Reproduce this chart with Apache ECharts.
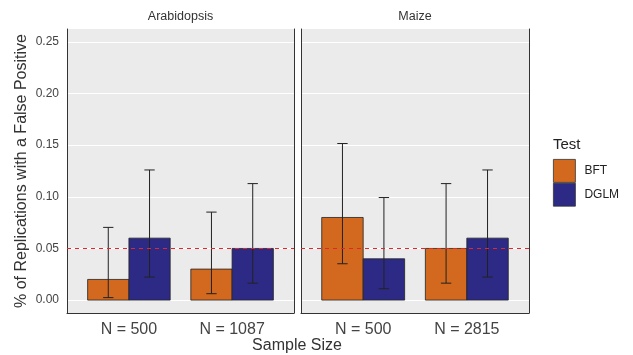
<!DOCTYPE html>
<html>
<head>
<meta charset="utf-8">
<script src="https://cdn.jsdelivr.net/npm/echarts@6/dist/echarts.min.js"></script>
<style>
  html, body { margin: 0; padding: 0; background: #fff; }
  #chart { width: 633px; height: 355px; }
</style>
</head>
<body>
<div id="chart"></div>
<script>
const facets = ['Arabidopsis', 'Maize']
const sizeLabels = [['N = 500', 'N = 1087'], ['N = 500', 'N = 2815']]
const tests = ['BFT', 'DGLM']
// proportion of 100 replications with a false positive, with binomial CIs
const bftRate = [[0.02, 0.03], [0.08, 0.05]]
const bftLow = [[0.0024, 0.0062], [0.0352, 0.0164]]
const bftHigh = [[0.0704, 0.0852], [0.1516, 0.1128]]
const dglmRate = [[0.06, 0.05], [0.04, 0.06]]
const dglmLow = [[0.0223, 0.0164], [0.011, 0.0223]]
const dglmHigh = [[0.126, 0.1128], [0.0993, 0.126]]
const yTicks = [0, 0.05, 0.1, 0.15, 0.2, 0.25]
const threshold = 0.05

const colors = { BFT: '#D2691E', DGLM: '#2d2a85' }
const font = 'Liberation Sans, Arial, sans-serif'
const chart = echarts.init(document.getElementById('chart'))

const grids = [
  { left: 67, top: 29, width: 227, height: 284 },
  { left: 301, top: 29, width: 228, height: 284 }
]

function renderBar(from, to) {
  return function (params, api) {
    const x = api.value(0)
    const top = api.coord([x + from, api.value(1)])
    const base = api.coord([x + to, 0])
    const c = x + (from + to) / 2
    const hi = api.coord([c, api.value(3)])
    const lo = api.coord([c, api.value(2)])
    const capL = api.coord([c - 0.05, 0])[0]
    const capR = api.coord([c + 0.05, 0])[0]
    const line = { stroke: '#222', lineWidth: 1 }
    return {
      type: 'group',
      children: [
        { type: 'rect', shape: { x: top[0], y: top[1], width: base[0] - top[0], height: base[1] - top[1] },
          style: { fill: api.visual('color'), stroke: '#222', lineWidth: 0.8 } },
        { type: 'line', shape: { x1: hi[0], y1: hi[1], x2: lo[0], y2: lo[1] }, style: line },
        { type: 'line', shape: { x1: capL, y1: hi[1], x2: capR, y2: hi[1] }, style: line },
        { type: 'line', shape: { x1: capL, y1: lo[1], x2: capR, y2: lo[1] }, style: line }
      ]
    }
  }
}

const xAxis = facets.map((f, i) => ({
  type: 'value', gridIndex: i, min: 0.4, max: 2.6,
  axisLine: { show: true, onZero: false, lineStyle: { color: '#333', width: 1 } },
  axisTick: { show: false }, splitLine: { show: false },
  axisLabel: {
    margin: 9, fontSize: 16, color: '#444', fontFamily: font, showMinLabel: false, showMaxLabel: false,
    formatter: (v) => {
      const k = Math.round(v)
      return Math.abs(v - k) < 1e-6 && k >= 1 && k <= 2 ? sizeLabels[i][k - 1] : ''
    }
  }
}))

const yAxis = []
facets.forEach((f, i) => {
  yAxis.push({
    type: 'value', gridIndex: i, min: -0.0125, max: 0.2625,
    axisLine: { show: true, lineStyle: { color: '#333', width: 1 } },
    axisTick: { show: false },
    splitLine: { show: true, showMinLine: false, showMaxLine: false, lineStyle: { color: '#fff', width: 1.2 } },
    axisLabel: {
      show: i === 0, fontSize: 12, color: '#444', fontFamily: font, margin: 8,
      formatter: (v) => yTicks.some((t) => Math.abs(t - v) < 1e-6) ? v.toFixed(2) : ''
    },
    name: i === 0 ? '% of Replications with a False Positive' : '',
    nameLocation: 'middle', nameGap: 37, nameRotate: 90,
    nameTextStyle: { fontSize: 16, color: '#333', fontFamily: font }
  })
  yAxis.push({
    type: 'value', gridIndex: i, position: 'right', min: -0.0125, max: 0.2625,
    axisLine: { show: true, lineStyle: { color: '#333', width: 1 } },
    axisTick: { show: false }, axisLabel: { show: false }, splitLine: { show: false }
  })
})

const series = []
facets.forEach((f, i) => {
  const rates = [bftRate[i], dglmRate[i]]
  const lows = [bftLow[i], dglmLow[i]]
  const highs = [bftHigh[i], dglmHigh[i]]
  tests.forEach((t, j) => {
    series.push({
      type: 'custom', name: t, xAxisIndex: i, yAxisIndex: i * 2,
      itemStyle: { color: colors[t] },
      encode: { x: 0, y: 1 },
      renderItem: j === 0 ? renderBar(-0.4, 0) : renderBar(0, 0.4),
      data: rates[j].map((v, k) => [k + 1, v, lows[j][k], highs[j][k]]),
      markLine: j === 1 ? {
        silent: true, symbol: ['none', 'none'], label: { show: false },
        lineStyle: { color: '#e3262b', type: [4, 4], width: 1 },
        data: [{ yAxis: threshold }]
      } : undefined
    })
  })
})

chart.setOption({
  animation: false,
  textStyle: { fontFamily: font },
  grid: grids.map((g) => ({ ...g, show: true, backgroundColor: '#EBEBEB', borderWidth: 0 })),
  title: [
    ...facets.map((f, i) => ({
      text: f, left: grids[i].left + grids[i].width / 2, top: 10, textAlign: 'center', padding: 0,
      textStyle: { fontSize: 12.5, fontWeight: 'normal', color: '#333', fontFamily: font }
    })),
    { text: 'Sample Size', left: 297, top: 338, textAlign: 'center', padding: 0,
      textStyle: { fontSize: 16, fontWeight: 'normal', color: '#333', fontFamily: font } },
    { text: 'Test', left: 553, top: 137, padding: 0,
      textStyle: { fontSize: 15, fontWeight: 'normal', color: '#222', fontFamily: font } }
  ],
  legend: {
    data: tests, orient: 'vertical', left: 553, top: 159, padding: 0,
    itemWidth: 22, itemHeight: 23, itemGap: 0, icon: 'rect', selectedMode: false,
    itemStyle: { borderColor: '#333', borderWidth: 0.8 },
    textStyle: { fontSize: 12, color: '#222', fontFamily: font, padding: [0, 0, 0, 4] }
  },
  xAxis,
  yAxis,
  series
})
</script>
</body>
</html>
